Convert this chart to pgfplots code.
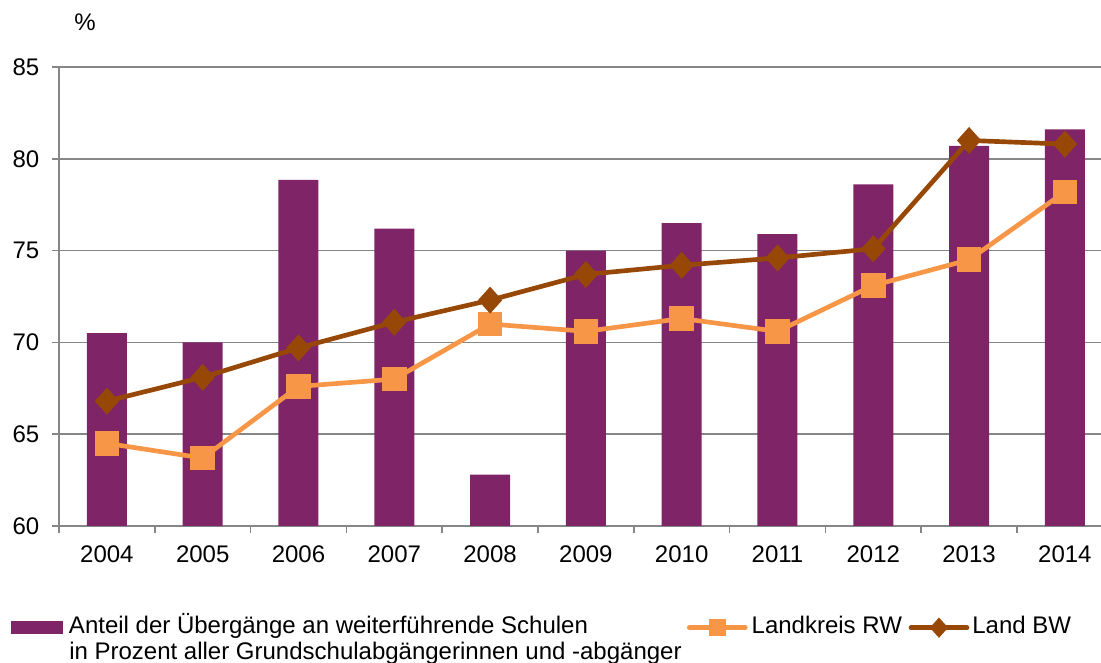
\documentclass[border=0pt]{standalone}
\usepackage{fontspec}
\setmainfont{Liberation Sans}
\usepackage{pgfplots}
\pgfplotsset{compat=1.18}
\newdimen\U \U=0.75pt
\definecolor{barcol}{RGB}{127,36,103}
\definecolor{rwcol}{RGB}{247,150,70}
\definecolor{bwcol}{RGB}{152,72,6}
\definecolor{gridcol}{RGB}{134,134,134}
\begin{document}
\begin{tikzpicture}[font=\fontsize{18}{21}\selectfont]
\begin{axis}[name=ax, set layers, scale only axis, width=781.5pt, height=344.25pt,
  xmin=-0.5, xmax=10.377, ymin=60, ymax=85,
  axis lines*=left, axis line style={gridcol, line width=1.2pt},
  xtick={0,...,10},
  xticklabels={2004,2005,2006,2007,2008,2009,2010,2011,2012,2013,2014},
  minor xtick={-0.5,0.5,...,9.5},
  major x tick style={draw=none},
  tick align=outside, major tick length=5.25pt, minor tick length=5.25pt,
  tick style={gridcol, line width=1.2pt},
  ytick={60,65,...,85},
  ymajorgrids, grid style={gridcol, line width=1.2pt},
  /pgf/number format/assume math mode=true,
  yticklabel style={xshift=-6pt},
  xticklabel style={yshift=-6pt},
  legend cell align=left,
  legend style={at={(-0.046065,-0.2680)}, anchor=south west, draw=none, fill=none,
    inner sep=0pt, outer sep=0pt, column sep=0pt, nodes={inner sep=0pt, outer sep=0pt}},
  legend columns=3,
]
\addplot[ybar, bar width=30pt, bar shift=0pt, fill=barcol, draw=none,
  legend image code/.code={\fill[barcol] (0,0.5\U) rectangle (52\U,13.5\U); \path (0,-12\U) (58\U,24\U);}]
  coordinates {(0,70.5)(1,70.0)(2,78.85)(3,76.2)(4,62.8)(5,75.0)(6,76.5)(7,75.9)(8,78.6)(9,80.7)(10,81.6)};
\addlegendentry{\makebox[618\U][l]{\smash{Anteil der Übergänge an weiterführende Schulen}}}
\addplot[rwcol, line width=3.5pt, mark=square*, mark size=7.5pt, mark options={draw=none, fill=rwcol},
  legend image code/.code={\draw[line cap=round, mark size=4.5pt, mark repeat=2, mark phase=2] plot coordinates {(0,7\U) (28\U,7\U) (56\U,7\U)}; \path (0,-12\U) (60\U,24\U);}]
  coordinates {(0,64.5)(1,63.7)(2,67.6)(3,68.0)(4,71.0)(5,70.6)(6,71.3)(7,70.6)(8,73.1)(9,74.5)(10,78.2)};
\addlegendentry{\makebox[157\U][l]{\smash{Landkreis RW}}}
\addplot[bwcol, line width=3.5pt, mark=diamond*, mark size=7.5pt, mark options={draw=none, fill=bwcol, xscale=1.2},
  legend image code/.code={\draw[line cap=round, mark size=5pt, mark repeat=2, mark phase=2] plot coordinates {(0,7\U) (28\U,7\U) (56\U,7\U)}; \path (0,-12\U) (59\U,24\U);}]
  coordinates {(0,66.8)(1,68.1)(2,69.7)(3,71.1)(4,72.3)(5,73.7)(6,74.2)(7,74.6)(8,75.1)(9,81.0)(10,80.8)};
\addlegendentry{\smash{Land BW}}
\end{axis}
\node[anchor=base west, inner sep=0pt] at ([shift={(10\U,-134\U)}]ax.south west) {in Prozent aller Grundschulabgängerinnen und -abgänger};
\node[inner sep=0pt] at ([shift={(26\U,45\U)}]ax.north west) {\%};
\pgfresetboundingbox
\path ([shift={(-59\U,-137\U)}]ax.south west) rectangle ++(825.75pt,497.25pt);
\end{tikzpicture}
\end{document}
